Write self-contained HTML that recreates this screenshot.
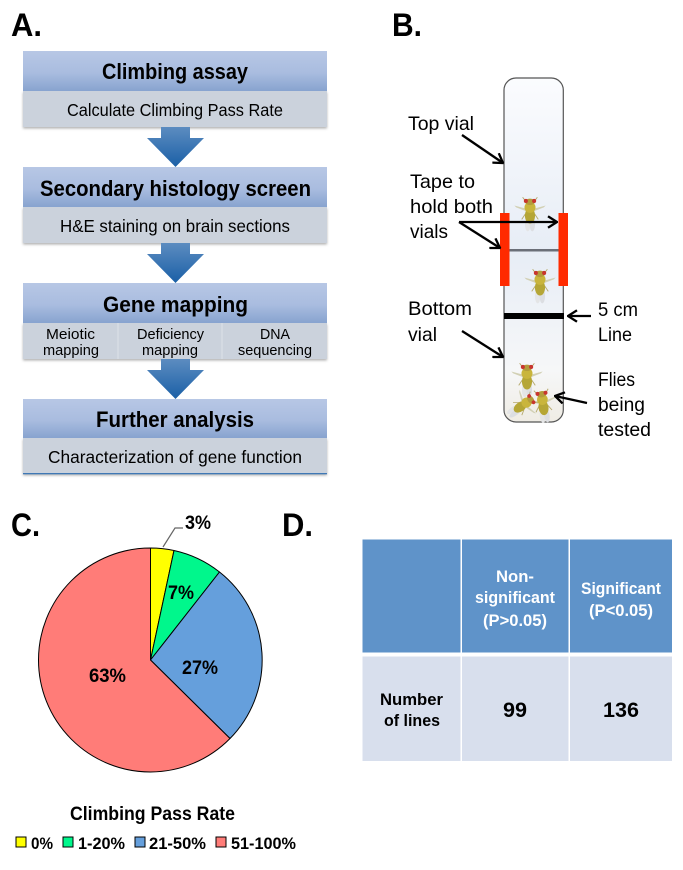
<!DOCTYPE html>
<html><head><meta charset="utf-8"><style>
html,body{margin:0;padding:0;background:#fff;width:683px;height:870px;overflow:hidden}
svg{display:block;filter:blur(.3px)}
text{font-family:"Liberation Sans",sans-serif;fill:#000}
.b{font-weight:bold}
.h{font-weight:bold;font-size:22px}
.s{font-size:17.5px}
.m{font-size:15px}
.l{font-size:19.5px}
.w{font-weight:bold;fill:#fff;font-size:17px}
.t{font-weight:bold;font-size:17px}
.p{font-weight:bold;font-size:19px}
.g{font-weight:bold;font-size:17px}
</style></head><body>
<svg width="683" height="870" viewBox="0 0 683 870" xmlns="http://www.w3.org/2000/svg">
<defs>
<linearGradient id="hd" x1="0" y1="0" x2="0" y2="1"><stop offset="0" stop-color="#b7c7e5"/><stop offset=".55" stop-color="#a9bcdf"/><stop offset="1" stop-color="#87a3cf"/></linearGradient>
<linearGradient id="ar" x1="0" y1="0" x2="0" y2="1"><stop offset="0" stop-color="#5c8cc0"/><stop offset="1" stop-color="#1a5fa6"/></linearGradient>
<linearGradient id="vial" x1="0" y1="0" x2="0" y2="1"><stop offset="0" stop-color="#fbfcfe"/><stop offset=".5" stop-color="#e7edf6"/><stop offset=".85" stop-color="#f6f7f8"/><stop offset="1" stop-color="#efece4"/></linearGradient>
<filter id="sh" x="-5%" y="-10%" width="110%" height="125%"><feDropShadow dx="0" dy="1.5" stdDeviation="1.2" flood-color="#000" flood-opacity=".3"/></filter>
<g id="fly">
<path d="M-2 -3 L-17 -7 L-15 -5 L-2 0Z M2 -3 L17 -7 L15 -5 L2 0Z" fill="#d2d0b4"/>
<path d="M-5 -12 L-8 -16 M5 -12 L8 -16 M-5 2 L-9 8 M5 2 L9 8" stroke="#b5a96c" stroke-width="1" fill="none"/>
<ellipse cx="-2.500" cy="13" rx="3" ry="8" fill="#e4e5e6"/><ellipse cx="2.500" cy="13" rx="3" ry="8" fill="#dcdee2"/>
<ellipse cx="0" cy="4" rx="5.500" ry="8.500" fill="#b5a636"/>
<ellipse cx="0" cy="-5" rx="6" ry="6" fill="#c9b53c"/>
<ellipse cx="0" cy="-11" rx="5.500" ry="3.500" fill="#b39c3c"/>
<circle cx="-4.500" cy="-12" r="2.200" fill="#c8352e"/><circle cx="4.500" cy="-12" r="2.200" fill="#c8352e"/>
</g>
<marker id="ah" markerWidth="11" markerHeight="13" refX="10" refY="6.500" orient="auto" markerUnits="userSpaceOnUse"><path d="M1 .8 L10 6.500 L1 12.200" fill="none" stroke="#000" stroke-width="2.300"/></marker>
</defs>

<!-- A -->
<text x="11" y="36" class="b" font-size="32" textLength="31" lengthAdjust="spacingAndGlyphs">A.</text>
<g filter="url(#sh)"><rect x="23" y="91" width="304" height="36" fill="#cbd2dc"/></g>
<rect x="23" y="51" width="304" height="40" fill="url(#hd)"/>
<g filter="url(#sh)"><rect x="23" y="207" width="304" height="36" fill="#cbd2dc"/></g>
<rect x="23" y="167" width="304" height="40" fill="url(#hd)"/>
<g filter="url(#sh)"><rect x="23" y="323" width="304" height="36" fill="#cbd2dc"/></g>
<rect x="23" y="283" width="304" height="40" fill="url(#hd)"/>
<path d="M118 323V359M222 323V359" stroke="#dde2e9" stroke-width="1"/>
<g filter="url(#sh)"><rect x="23" y="438" width="304" height="36" fill="#cbd2dc"/></g>
<rect x="23" y="399" width="304" height="39" fill="url(#hd)"/>
<rect x="23" y="473" width="304" height="1.300" fill="#3f78b5"/>
<path d="M161 127H190V138H204L175.500 167L147 138H161Z" fill="url(#ar)"/>
<path d="M161 243H190V254H204L175.500 283L147 254H161Z" fill="url(#ar)"/>
<path d="M161 359H190V370H204L175.500 399L147 370H161Z" fill="url(#ar)"/>

<text x="102" y="79" class="h" textLength="146" lengthAdjust="spacingAndGlyphs">Climbing assay</text>
<text x="67" y="116" class="s" textLength="216" lengthAdjust="spacingAndGlyphs">Calculate Climbing Pass Rate</text>
<text x="40" y="196" class="h" textLength="271" lengthAdjust="spacingAndGlyphs">Secondary histology screen</text>
<text x="60" y="232" class="s" textLength="230" lengthAdjust="spacingAndGlyphs">H&amp;E staining on brain sections</text>
<text x="103" y="312" class="h" textLength="145" lengthAdjust="spacingAndGlyphs">Gene mapping</text>
<text x="46" y="339" class="m" textLength="49" lengthAdjust="spacingAndGlyphs">Meiotic</text>
<text x="43" y="355" class="m" textLength="56" lengthAdjust="spacingAndGlyphs">mapping</text>
<text x="137" y="339" class="m" textLength="67" lengthAdjust="spacingAndGlyphs">Deficiency</text>
<text x="142" y="355" class="m" textLength="56" lengthAdjust="spacingAndGlyphs">mapping</text>
<text x="260" y="339" class="m" textLength="30" lengthAdjust="spacingAndGlyphs">DNA</text>
<text x="238" y="355" class="m" textLength="74" lengthAdjust="spacingAndGlyphs">sequencing</text>
<text x="96" y="427" class="h" textLength="158" lengthAdjust="spacingAndGlyphs">Further analysis</text>
<text x="48" y="463" class="s" textLength="254" lengthAdjust="spacingAndGlyphs">Characterization of gene function</text>

<!-- B -->
<text x="392" y="36" class="b" font-size="32" textLength="30" lengthAdjust="spacingAndGlyphs">B.</text>
<rect x="504" y="78" width="59.300" height="344" rx="12" fill="url(#vial)" stroke="#555" stroke-width="1.200"/>
<rect x="509" y="249" width="50" height="2.500" fill="#6b6f78"/>
<rect x="504" y="313" width="60" height="6" fill="#000"/>
<use href="#fly" transform="translate(530 212) scale(.92)"/>
<use href="#fly" transform="translate(540 284) scale(.92)"/>
<use href="#fly" transform="translate(527 378) scale(.92)"/>
<use href="#fly" transform="translate(543 404) rotate(-8) scale(.9)"/>
<use href="#fly" transform="translate(523 405) rotate(55) scale(.85)"/>
<rect x="500" y="213" width="9.500" height="73" fill="#ff2a00"/>
<rect x="558.500" y="213" width="9.500" height="73" fill="#ff2a00"/>
<g fill="none" stroke="#000" stroke-width="2.300" marker-end="url(#ah)">
<path d="M462 135L503 163"/>
<path d="M459 222L557 222"/>
<path d="M459 222L500 248"/>
<path d="M462 331L503 357"/>
<path d="M591 316L568 316"/>
<path d="M587 403L555 396"/>
</g>
<text x="408" y="130" class="l" textLength="66" lengthAdjust="spacingAndGlyphs">Top vial</text>
<text x="410" y="188" class="l" textLength="65" lengthAdjust="spacingAndGlyphs">Tape to</text>
<text x="410" y="213" class="l" textLength="83" lengthAdjust="spacingAndGlyphs">hold both</text>
<text x="410" y="238" class="l" textLength="38" lengthAdjust="spacingAndGlyphs">vials</text>
<text x="408" y="315" class="l" textLength="64" lengthAdjust="spacingAndGlyphs">Bottom</text>
<text x="408" y="341" class="l" textLength="29" lengthAdjust="spacingAndGlyphs">vial</text>
<text x="598" y="316" class="l" textLength="40" lengthAdjust="spacingAndGlyphs">5 cm</text>
<text x="598" y="341" class="l" textLength="34" lengthAdjust="spacingAndGlyphs">Line</text>
<text x="598" y="386" class="l" textLength="37" lengthAdjust="spacingAndGlyphs">Flies</text>
<text x="598" y="411" class="l" textLength="47" lengthAdjust="spacingAndGlyphs">being</text>
<text x="598" y="436" class="l" textLength="53" lengthAdjust="spacingAndGlyphs">tested</text>

<!-- C -->
<text x="11" y="536" class="b" font-size="32" textLength="29" lengthAdjust="spacingAndGlyphs">C.</text>
<g stroke="#000" stroke-width="1" stroke-linejoin="round">
<path d="M150.500 660L150.500 548A112 112 0 0 1 174 550.500Z" fill="#ffff00"/>
<path d="M150.500 660L174 550.500A112 112 0 0 1 219.500 572Z" fill="#00f78c"/>
<path d="M150.500 660L219.500 572A112 112 0 0 1 230 738.500Z" fill="#659fdc"/>
<path d="M150.500 660L230 738.500A112 112 0 0 1 150.500 772A112 112 0 0 1 150.500 548Z" fill="#ff7c78"/>
</g>
<path d="M163 547L175 528H183" fill="none" stroke="#666" stroke-width="1.200"/>
<text x="185" y="529" class="p" textLength="26" lengthAdjust="spacingAndGlyphs">3%</text>
<text x="168" y="599" class="p" textLength="26" lengthAdjust="spacingAndGlyphs">7%</text>
<text x="182" y="674" class="p" textLength="36" lengthAdjust="spacingAndGlyphs">27%</text>
<text x="89" y="682" class="p" textLength="37" lengthAdjust="spacingAndGlyphs">63%</text>
<text x="70" y="820" class="p" textLength="165" lengthAdjust="spacingAndGlyphs">Climbing Pass Rate</text>
<g stroke="#000" stroke-width="1">
<rect x="16" y="837" width="10" height="10" fill="#ffff00"/>
<rect x="63" y="837" width="10" height="10" fill="#00f78c"/>
<rect x="135" y="837" width="10" height="10" fill="#659fdc"/>
<rect x="216" y="837" width="10" height="10" fill="#ff7c78"/>
</g>
<text x="31" y="849" class="g" textLength="22" lengthAdjust="spacingAndGlyphs">0%</text>
<text x="78" y="849" class="g" textLength="47" lengthAdjust="spacingAndGlyphs">1-20%</text>
<text x="149" y="849" class="g" textLength="57" lengthAdjust="spacingAndGlyphs">21-50%</text>
<text x="231" y="849" class="g" textLength="65" lengthAdjust="spacingAndGlyphs">51-100%</text>

<!-- D -->
<text x="282" y="536" class="b" font-size="32" textLength="31" lengthAdjust="spacingAndGlyphs">D.</text>
<g fill="#5f93c9">
<rect x="362.500" y="539.500" width="98" height="113"/>
<rect x="462" y="539.500" width="106.500" height="113"/>
<rect x="570" y="539.500" width="102" height="113"/>
</g>
<g fill="#d8dfed">
<rect x="362.500" y="656.500" width="98" height="104.500"/>
<rect x="462" y="656.500" width="106.500" height="104.500"/>
<rect x="570" y="656.500" width="102" height="104.500"/>
</g>
<text x="496" y="582" class="w" textLength="38" lengthAdjust="spacingAndGlyphs">Non-</text>
<text x="475" y="603" class="w" textLength="80" lengthAdjust="spacingAndGlyphs">significant</text>
<text x="483" y="626" class="w" textLength="64" lengthAdjust="spacingAndGlyphs">(P&gt;0.05)</text>
<text x="581" y="594" class="w" textLength="80" lengthAdjust="spacingAndGlyphs">Significant</text>
<text x="589" y="616" class="w" textLength="64" lengthAdjust="spacingAndGlyphs">(P&lt;0.05)</text>
<text x="380" y="705" class="t" textLength="63" lengthAdjust="spacingAndGlyphs">Number</text>
<text x="384" y="726" class="t" textLength="56" lengthAdjust="spacingAndGlyphs">of lines</text>
<text x="503" y="717" class="p" style="font-size:21px" textLength="24" lengthAdjust="spacingAndGlyphs">99</text>
<text x="603" y="717" class="p" style="font-size:21px" textLength="36" lengthAdjust="spacingAndGlyphs">136</text>
</svg>
</body></html>
